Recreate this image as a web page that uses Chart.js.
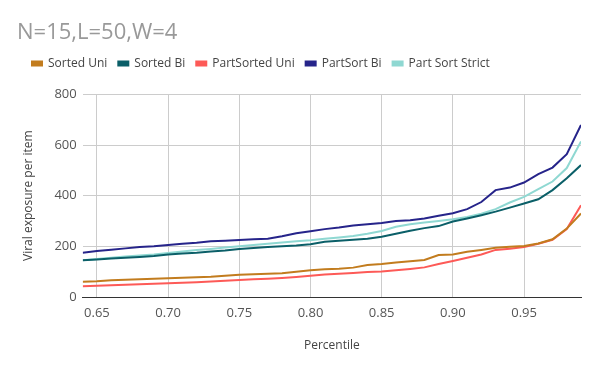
<html lang="en">
<head>
  <meta charset="UTF-8">
  <title>N=15,L=50,W=4</title>
  <script src="https://cdn.jsdelivr.net/npm/chart.js"></script>
  <style>
    body { margin: 0; background: #fff; }
  </style>
</head>
<body>
  <canvas id="viz" width="600" height="371"></canvas>
  <script>
    // percentile axis
    const percentiles = [0.64, 0.65, 0.66, 0.67, 0.68, 0.69, 0.70, 0.71, 0.72, 0.73, 0.74, 0.75,
      0.76, 0.77, 0.78, 0.79, 0.80, 0.81, 0.82, 0.83, 0.84, 0.85, 0.86, 0.87, 0.88, 0.89,
      0.90, 0.91, 0.92, 0.93, 0.94, 0.95, 0.96, 0.97, 0.98, 0.99]
    const xTicks = [0.65, 0.70, 0.75, 0.80, 0.85, 0.90, 0.95]

    const sortedUni = [60, 62, 66, 68, 70, 72, 74, 76, 78, 80, 84, 88, 90, 92, 94, 100, 106, 110, 112, 116,
      126, 130, 136, 141, 146, 166, 168, 179, 186, 194, 198, 201, 211, 228, 270, 330]
    const sortedBi = [145, 148, 152, 155, 158, 162, 168, 172, 175, 180, 184, 190, 193, 197, 200, 203, 208, 218,
      222, 226, 230, 238, 250, 262, 272, 280, 298, 310, 323, 337, 353, 369, 386, 422, 469, 521]
    const partSortedUni = [42, 44, 46, 48, 50, 52, 54, 56, 58, 61, 64, 67, 70, 72, 75, 79, 84, 89, 92, 95,
      99, 101, 106, 111, 117, 130, 142, 155, 168, 186, 191, 197, 210, 226, 268, 362]
    const partSortBi = [175, 182, 187, 192, 197, 200, 205, 210, 214, 220, 222, 225, 228, 230, 240, 252, 260,
      268, 274, 282, 287, 292, 300, 303, 310, 321, 331, 347, 375, 422, 432, 452, 485, 511, 564, 679]
    const partSortStrict = [145, 150, 155, 160, 164, 168, 174, 180, 186, 190, 195, 200, 205, 210, 215, 220,
      224, 230, 235, 241, 250, 261, 277, 287, 294, 300, 307, 316, 329, 347, 373, 395, 426, 456, 509, 614]

    const series = [
      { label: 'Sorted Uni', values: sortedUni, color: '#c27c1e' },
      { label: 'Sorted Bi', values: sortedBi, color: '#0b5f68' },
      { label: 'PartSorted Uni', values: partSortedUni, color: '#fd5a57' },
      { label: 'PartSort Bi', values: partSortBi, color: '#26248a' },
      { label: 'Part Sort Strict', values: partSortStrict, color: '#8fd8d2' }
    ]

    const font = "'Open Sans', 'Noto Sans', sans-serif"
    Chart.defaults.font.family = font

    // nudge the legend right of the title and leave a gap under it
    const legendShift = {
      id: 'legendShift',
      beforeLayout: chart => {
        const l = chart.legend
        if (l && !l._patched) {
          const fit = l.fit
          l.fit = function () {
            fit.call(this)
            this.height += 15
          }
          l._patched = true
        }
      },
      afterLayout: chart => {
        chart.legend.left += 4
        chart.legend.right += 4
      }
    }

    new Chart(document.getElementById('viz'), {
      type: 'line',
      data: {
        datasets: series.map(s => ({
          label: s.label,
          data: s.values.map((v, i) => ({ x: percentiles[i], y: v })),
          borderColor: s.color,
          backgroundColor: s.color,
          borderWidth: 2,
          pointRadius: 0,
          tension: 0
        }))
      },
      plugins: [legendShift],
      options: {
        responsive: false,
        animation: false,
        layout: { padding: { left: 17, right: 19, bottom: 14 } },
        plugins: {
          title: {
            display: true,
            text: 'N=15,L=50,W=4',
            align: 'start',
            color: '#999',
            font: { size: 22, weight: 'normal' },
            padding: { top: 20, bottom: 0 }
          },
          legend: {
            position: 'top',
            align: 'start',
            labels: {
              boxWidth: 10,
              boxHeight: 4,
              padding: 11,
              color: '#444',
              font: { size: 12 }
            }
          },
          tooltip: { enabled: false }
        },
        scales: {
          x: {
            type: 'linear',
            min: 0.64,
            max: 0.99,
            afterBuildTicks: axis => { axis.ticks = xTicks.map(v => ({ value: v })) },
            ticks: {
              color: '#555',
              font: { size: 13 },
              callback: v => v.toFixed(2),
              maxRotation: 0,
              padding: 8
            },
            grid: { color: '#ccc', drawTicks: false },
            border: { color: '#333', width: 1 },
            title: { display: true, text: 'Percentile', color: '#444', font: { size: 12 }, padding: { top: 10 } }
          },
          y: {
            min: 0,
            max: 800,
            ticks: { stepSize: 200, color: '#555', font: { size: 13 }, padding: 6 },
            grid: { color: '#ccc', drawTicks: false },
            border: { display: false },
            title: { display: true, text: 'Viral exposure per item', color: '#444', font: { size: 12 }, padding: { top: 4, bottom: 13 } }
          }
        }
      }
    })
  </script>
</body>
</html>
